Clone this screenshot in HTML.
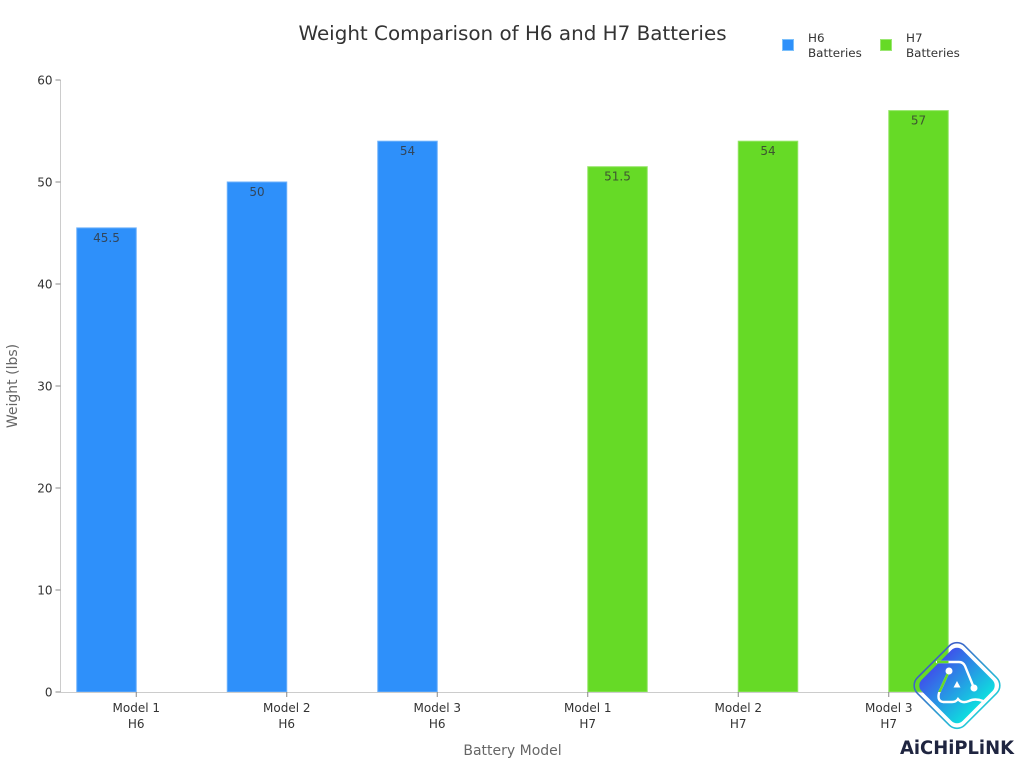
<!DOCTYPE html>
<html lang="en">
<head>
<meta charset="utf-8">
<title>Weight Comparison of H6 and H7 Batteries</title>
<style>
html,body{margin:0;padding:0;background:#fff;width:1024px;height:768px;overflow:hidden}
svg{display:block;font-family:"DejaVu Sans","Liberation Sans",sans-serif}
</style>
</head>
<body>
<svg id="chart" width="1024" height="768" viewBox="0 0 1024 768" xmlns="http://www.w3.org/2000/svg">
<defs>
<linearGradient id="logoFill" x1="0" y1="0.5" x2="1" y2="0.5">
<stop offset="0" stop-color="#3d55ea"/><stop offset="1" stop-color="#0fdcdf"/>
</linearGradient>
<linearGradient id="logoRing" x1="0" y1="0.5" x2="1" y2="0.5">
<stop offset="0" stop-color="#3f5fc8"/><stop offset="1" stop-color="#22c8d8"/>
</linearGradient>
<clipPath id="logoOverBar"><rect x="920" y="640" width="28.500" height="52"/></clipPath>
</defs>
<text x="512.5" y="40" text-anchor="middle" font-size="19.900" fill="#333">Weight Comparison of H6 and H7 Batteries</text>
<g id="legend">
<g>
<rect x="782.5" y="39.5" width="11" height="11" fill="#2e90fa" stroke="#7cc0fb"/>
<text font-size="11.900" fill="#333"><tspan x="808" y="42">H6</tspan><tspan x="808" y="57">Batteries</tspan></text>
</g>
<g>
<rect x="880.5" y="39.5" width="11" height="11" fill="#66da26" stroke="#9be772"/>
<text font-size="11.900" fill="#333"><tspan x="906" y="42">H7</tspan><tspan x="906" y="57">Batteries</tspan></text>
</g>
</g>
<g id="marks"></g>
<g id="axes"></g>
<text x="512.5" y="755" text-anchor="middle" font-size="14" fill="#666">Battery Model</text>
<text transform="translate(17,386) rotate(-90)" text-anchor="middle" font-size="14" fill="#666">Weight (lbs)</text>
<g>
<rect x="-33.500" y="-33.500" width="67" height="67" rx="11" transform="translate(957,685.5) rotate(45)" fill="none" stroke="url(#logoRing)" stroke-width="1.600"/>
<rect x="-29" y="-29" width="58" height="58" rx="8" transform="translate(957,685.5) rotate(45)" fill="url(#logoFill)"/>
<path id="logoCircuit" d="M937 662 H959 Q963 662 965 666 L974 688 M949 671 L939 693 Q937 701 943 702 H952 Q956 702 958 699 Q962 704 969 701 Q975 698 983 701" fill="none" stroke="#fff" stroke-width="2.400" stroke-linecap="round"/>
<path d="M937 662 H959 M949 671 L939 693" clip-path="url(#logoOverBar)" fill="none" stroke="#66da26" stroke-width="2.400"/>
<circle cx="949" cy="671" r="3.500" fill="#fff"/>
<circle cx="974" cy="688" r="3.500" fill="#fff"/>
<path d="M957 681 L960.500 687.500 H953.500 Z" fill="#fff"/>
<text x="957" y="754" text-anchor="middle" font-family="'DejaVu Sans','Liberation Sans',sans-serif" font-size="18.500" font-weight="bold" fill="#1f2540" textLength="114" lengthAdjust="spacingAndGlyphs">AiCHiPLiNK</text>
</g>
<script>
const categories = ['Model 1 H6', 'Model 2 H6', 'Model 3 H6', 'Model 1 H7', 'Model 2 H7', 'Model 3 H7'];
const h6Values = [45.5, 50, 54, null, null, null];
const h7Values = [null, null, null, 51.5, 54, 57];
const yTicks = [0, 10, 20, 30, 40, 50, 60];
const seriesNames = ['h6', 'h7'];
const seriesFill = ['#2e90fa', '#66da26'];
const seriesStroke = ['#6db1fb', '#94e566'];
const NS = 'http://www.w3.org/2000/svg';
const plot = {axisX: 60.5, left: 61, right: 964, top: 80, bottom: 692, yMax: 60};
const barWidth = 59.5;
function yScale(v) { return plot.bottom - (v / plot.yMax) * (plot.bottom - plot.top); }
function xCenter(i) { return plot.left + (plot.right - plot.left) * (i + 0.5) / categories.length; }
function make(tag, attrs, parent) {
  const el = document.createElementNS(NS, tag);
  for (const k in attrs) el.setAttribute(k, attrs[k]);
  parent.appendChild(el);
  return el;
}
const marks = document.getElementById('marks');
const axes = document.getElementById('axes');
[h6Values, h7Values].forEach(function (values, s) {
  values.forEach(function (v, i) {
    if (v === null) return;
    const x = s === 0 ? xCenter(i) - barWidth : xCenter(i);
    const bar = make('rect', {x: x, y: yScale(v), width: barWidth, height: plot.bottom - yScale(v), fill: seriesFill[s], stroke: seriesStroke[s], 'stroke-width': 1}, marks);
    
    
    const label = make('text', {x: x + barWidth / 2, y: yScale(v) + 14, 'text-anchor': 'middle', 'font-size': 12, fill: '#333', 'fill-opacity': 0.8}, marks);
    label.textContent = String(v);
    
    
  });
});
const yLine = make('line', {x1: plot.axisX, x2: plot.axisX, y1: plot.top, y2: plot.bottom, stroke: '#ccc', 'stroke-width': 1}, axes);


const xLine = make('line', {x1: plot.axisX, x2: plot.right, y1: plot.bottom + 0.5, y2: plot.bottom + 0.5, stroke: '#ccc', 'stroke-width': 1}, axes);


yTicks.forEach(function (t) {
  const y = yScale(t);
  const tick = make('line', {x1: plot.axisX - 5, x2: plot.axisX, y1: y, y2: y, stroke: '#888', 'stroke-width': 1}, axes);
  
  
  const label = make('text', {x: plot.axisX - 8, y: y + 4.5, 'text-anchor': 'end', 'font-size': 12, fill: '#333'}, axes);
  label.textContent = String(t);
  
  
});
categories.forEach(function (c, i) {
  const x = xCenter(i);
  const tick = make('line', {x1: x, x2: x, y1: plot.bottom, y2: plot.bottom + 5, stroke: '#888', 'stroke-width': 1}, axes);
  
  
  const parts = c.split(' ');
  const label = make('text', {'text-anchor': 'middle', 'font-size': 12, fill: '#333'}, axes);
  
  
  const a = make('tspan', {x: x, y: 712}, label);
  a.textContent = parts[0] + ' ' + parts[1];
  const b = make('tspan', {x: x, y: 728}, label);
  b.textContent = parts[2];
});
</script>
</svg>
</body>
</html>
